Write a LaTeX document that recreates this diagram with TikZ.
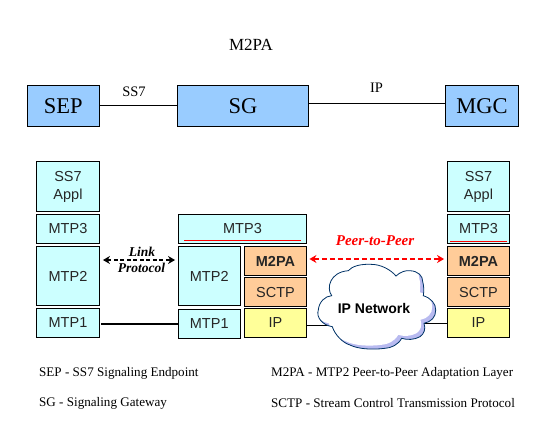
\documentclass[tikz,border=0pt]{standalone}
\usepackage{fontspec}
\setmainfont{Liberation Serif}
\newfontfamily\boxfont{Liberation Sans}
\usetikzlibrary{arrows.meta}
\definecolor{cyanbox}{HTML}{CCFFFF}
\definecolor{orangebox}{HTML}{FFCC99}
\definecolor{yellowbox}{HTML}{FFFF99}
\definecolor{bluebox}{HTML}{99CCFF}
\definecolor{cloudedge}{HTML}{003366}
\definecolor{cloudshade}{HTML}{B8BAF0}
\tikzset{
  stackbox/.style={draw=black,line width=0.9pt,inner sep=0pt,align=center,font=\boxfont\fontsize{14.5}{18}\selectfont,text=black!85},
  cy/.style={stackbox,fill=cyanbox},
  org/.style={stackbox,fill=orangebox},
  yel/.style={stackbox,fill=yellowbox},
  net/.style={draw=black,line width=0.8pt,fill=bluebox,inner sep=0pt,font=\fontsize{22.5}{25}\selectfont},
  wire/.style={draw=black,line width=0.8pt},
  lab/.style={font=\fontsize{14.5}{16}\selectfont,inner sep=0pt},
  legend/.style={font=\fontsize{13.1}{15}\selectfont,inner sep=0pt,anchor=west},
  tiplab/.style={font=\bfseries\itshape\fontsize{13.5}{15}\selectfont,inner sep=0pt},
  dblhead/.style={{Stealth[length=7pt,width=8pt]}-{Stealth[length=7pt,width=8pt]}},
  redrule/.style={red,line width=1pt},
}
\def\cloudpath{(332.3,326.7)
 .. controls (322,325) and (316,317) .. (318.3,310)
 .. controls (319,302) and (325,296) .. (331.7,295.7)
 .. controls (326,288) and (330,272) .. (348.3,270.7)
 .. controls (352,266) and (361,264) .. (370,264.3)
 .. controls (381,264) and (391,270) .. (396,276)
 .. controls (400,272) and (406,270) .. (410,270.7)
 .. controls (418,271) and (423,276) .. (422.7,281.7)
 .. controls (424,286) and (424,291) .. (423.3,295.7)
 .. controls (431,298) and (436,304) .. (435.7,310)
 .. controls (436,317) and (431,322) .. (424,323.3)
 .. controls (426,329) and (424,334) .. (420,336.7)
 .. controls (414,340) and (407,340) .. (401.7,338.3)
 .. controls (398,345) and (391,348) .. (385,348.3)
 .. controls (372,350) and (358,349) .. (350,345)
 .. controls (343,343) and (335,335) .. (332.3,326.7) -- cycle}
\begin{document}
\begin{tikzpicture}[x=1pt,y=-1pt]
\useasboundingbox (0,0) rectangle (548,437);
\fill[white] (0,0) rectangle (548,437);
% top row
\node[font=\fontsize{17}{19}\selectfont,inner sep=0pt] (title) at (251,45) {M2PA};
\node[net,minimum width=72.5pt,minimum height=41.5pt] (sep) at (63.25,105.75) {SEP};
\node[net,minimum width=131pt,minimum height=41.5pt] (sg) at (243,105.75) {SG};
\node[net,minimum width=73pt,minimum height=41.5pt] (mgc) at (482,105.75) {MGC};
\coordinate (seplevel) at (0,105.3);
\coordinate (iplevel) at (0,103.3);
\draw[wire] (sep.east |- seplevel) -- (sg.west |- seplevel);
\draw[wire] (sg.east |- iplevel) -- (mgc.west |- iplevel);
\node[lab] (ss7) at (134,91.5) {SS7};
\node[lab] (ip) at (376.5,87.5) {IP};
% left stack
\node[cy,minimum width=63pt,minimum height=50pt] (lapp) at (68,186.5) {SS7\\Appl};
\node[cy,minimum width=63pt,minimum height=28.5pt] (l3) at (68,228.75) {MTP3};
\node[cy,minimum width=63pt,minimum height=59pt] (l2) at (68,276) {MTP2};
\node[cy,minimum width=63pt,minimum height=29pt] (l1) at (68,323) {MTP1};
% SG stack
\node[cy,minimum width=128pt,minimum height=28.5pt] (s3) at (242.5,228.75) {MTP3};
\node[cy,minimum width=61.5pt,minimum height=59pt] (s2) at (209.25,276) {MTP2};
\node[cy,minimum width=61.5pt,minimum height=28.5pt] (s1) at (209.25,323.75) {MTP1};
\node[org,minimum width=62pt,minimum height=29pt,font=\boxfont\bfseries\fontsize{14.5}{16}\selectfont] (sa) at (275.5,261) {M2PA};
\node[org,minimum width=62pt,minimum height=29pt] (sc) at (275.5,292) {SCTP};
\node[yel,minimum width=62pt,minimum height=29pt] (si) at (275.5,323) {IP};
% right stack
\node[cy,minimum width=62pt,minimum height=50pt] (rapp) at (478.5,186.5) {SS7\\Appl};
\node[cy,minimum width=62pt,minimum height=28.5pt] (r3) at (478.5,228.75) {MTP3};
\node[org,minimum width=62pt,minimum height=29pt,font=\boxfont\bfseries\fontsize{14.5}{16}\selectfont] (ra) at (478.5,261) {M2PA};
\node[org,minimum width=62pt,minimum height=29pt] (rc) at (478.5,292) {SCTP};
\node[yel,minimum width=62pt,minimum height=29pt] (ri) at (478.5,323) {IP};
% underlines
\draw[redrule] (184,240) -- (301,240);
\draw[redrule] (450,241) -- (507,241);
% cloud wires
\coordinate (cloudw) at (332,325);
\coordinate (cloude) at (424,323);
\draw[wire] (si.east |- cloudw) -- (cloudw);
\draw[wire] (cloude) -- (ri.west |- cloude);
% cloud
\begin{scope}
\clip \cloudpath;
\fill[cloudshade] (310,260) rectangle (440,352);
\fill[white,xshift=-3.5pt,yshift=3.5pt] \cloudpath;
\end{scope}
\draw[cloudedge,line width=0.8pt] \cloudpath;
\node[font=\boxfont\bfseries\fontsize{14}{16}\selectfont,inner sep=0pt] (net) at (374,308) {IP Network};
% links
\draw[line width=1.7pt] ([xshift=1.5pt]l1.east |- s1.west) -- (s1.west);
\draw[dblhead,line width=1.1pt,dash pattern=on 4pt off 2.5pt,shorten <=3pt,shorten >=3pt] (l2.east |- 0,260) -- (s2.west |- 0,260);
\node[tiplab] (link) at (142,252) {Link};
\node[tiplab] (proto) at (141.5,267.5) {Protocol};
\draw[dblhead,red,line width=1.1pt,dash pattern=on 5pt off 3pt,shorten <=2.5pt,shorten >=3pt] (sa.east |- 0,259) -- (ra.west |- 0,259);
\node[tiplab,text=red,font=\bfseries\itshape\fontsize{15}{17}\selectfont] (peer) at (375,241) {Peer-to-Peer};
% legend
\node[legend] (l1a) at (39,373) {SEP - SS7 Signaling Endpoint};
\node[legend] (l1b) at (271,373) {M2PA - MTP2 Peer-to-Peer Adaptation Layer};
\node[legend] (l2a) at (39,403) {SG - Signaling Gateway};
\node[legend] (l2b) at (271,403) {SCTP - Stream Control Transmission Protocol};
\end{tikzpicture}
\end{document}
